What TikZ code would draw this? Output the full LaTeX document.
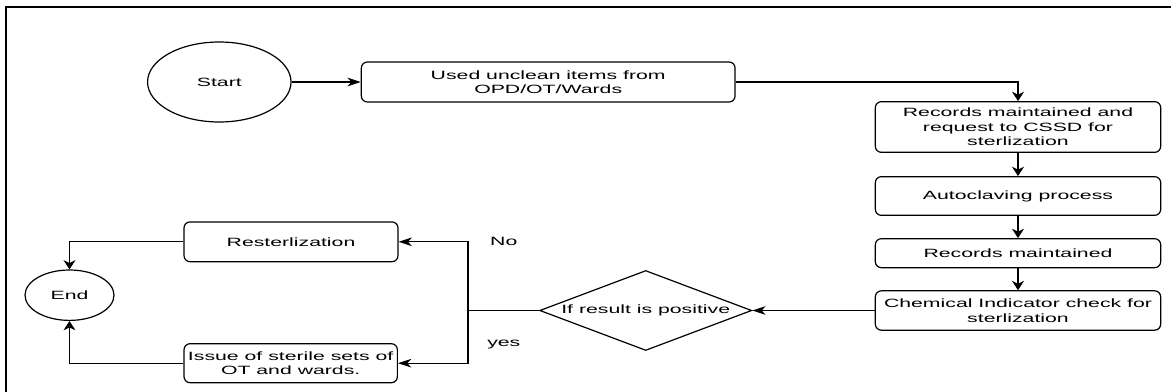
\documentclass[tikz,border=0pt]{standalone}
\usepackage{fontspec}
\setmainfont{Liberation Sans}[FakeStretch=1.77]
\usetikzlibrary{shapes.geometric,arrows.meta}
\begin{document}
\begin{tikzpicture}[x=0.75pt,y=-0.75pt,
  every node/.style={font=\fontsize{9pt}{10.9pt}\selectfont, inner sep=0pt, align=center},
  box/.style={draw, rounded corners=4.5pt, line width=0.9pt},
  oval/.style={draw, ellipse, line width=0.9pt},
  lnk/.style={line width=0.8pt},
  ha/.style={lnk, -{Stealth[length=10pt,width=6.5pt,inset=3pt]}},
  va/.style={lnk, -{Stealth[length=7pt,width=9pt,inset=2.2pt]}}]
\useasboundingbox (0,0) rectangle (1171,392);
\draw[line width=1.5pt] (5.5,392) -- (5.5,7) -- (1171,7);

\node[oval, minimum width=107.6pt, minimum height=60pt] (start) at (219.3,82) {Start};
\node[box, minimum width=280.3pt, minimum height=30pt] (b1) at (548.2,82) {Used unclean items from\\OPD/OT/Wards};
\node[box, minimum width=214pt, minimum height=38pt] (b2) at (1018,127) {Records maintained and\\request to CSSD for\\sterlization};
\node[box, minimum width=214pt, minimum height=29pt] (b3) at (1018,196) {Autoclaving process};
\node[box, minimum width=214pt, minimum height=21.75pt] (b4) at (1018,253.2) {Records maintained};
\node[box, minimum width=214pt, minimum height=29.5pt] (b5) at (1018,310.5) {Chemical Indicator check for\\sterlization};
\node[draw, diamond, line width=0.9pt, minimum width=159pt, minimum height=60pt] (dec) at (645.7,310.5) {\makebox[0pt]{If result is positive}};
\node[box, minimum width=160.5pt, minimum height=29.8pt] (rs) at (291,241.8) {Resterlization};
\node[box, minimum width=160pt, minimum height=29.25pt] (is) at (290.7,363.2) {Issue of sterile sets of\\OT and wards.};
\node[oval, minimum width=66.75pt, minimum height=37.8pt] (end) at (69.5,295.2) {End};
\coordinate (j) at (468,310.5);
\node (no) at (503.8,241.7) {No};
\node (yes) at (503.8,344.5) {yes};

\draw[ha] (start.east) -- (b1.west);
\draw[va] (b1.east) -| (b2.north);
\draw[va] (b2) -- (b3);
\draw[va] (b3) -- (b4);
\draw[va] (b4) -- (b5);
\draw[ha] (b5.west) -- (dec.east);
\draw[lnk] (dec.west) -- (j);
\draw[ha] (j) |- (rs.east);
\draw[ha] (j) |- (is.east);
\draw[va] (rs.west) -| (end.north);
\draw[va] (is.west) -| (end.south);
\end{tikzpicture}
\end{document}
